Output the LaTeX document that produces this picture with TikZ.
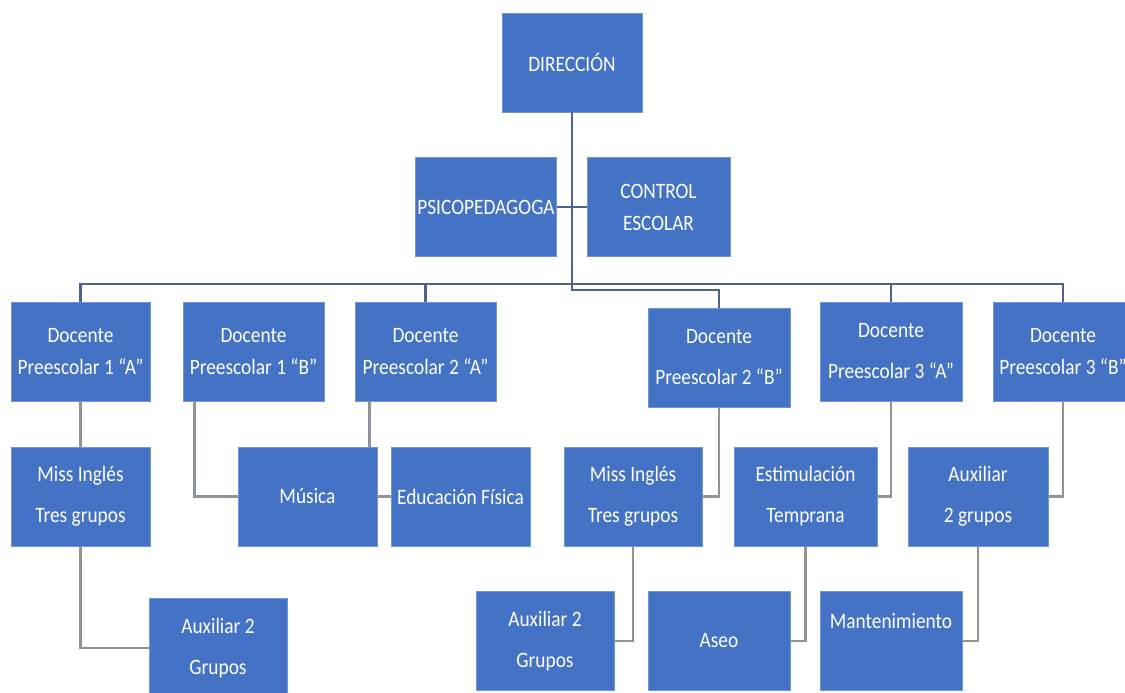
\documentclass[tikz,border=0pt]{standalone}
\usepackage{fontspec}
\setmainfont{Carlito}[FakeStretch=0.88]
\usepackage{tikz}
\usetikzlibrary{positioning}
\definecolor{boxblue}{HTML}{4472C4}
\definecolor{trunkline}{HTML}{4E6390}
\definecolor{branchline}{HTML}{8E939C}
\tikzset{%
	unit/.style     = {rectangle, fill=boxblue, draw=white!25!boxblue, line width=0.8pt, text=white, minimum width=140pt, minimum height=99pt, inner sep=2pt, align=center, font=\fontsize{22}{41}\selectfont}, % Box
	tight/.style    = {font=\fontsize{22}{32}\selectfont}, % Close lines
	trunk/.style    = {draw=trunkline, line width=2.5pt}, % Main lines
	branch/.style   = {draw=branchline, line width=2.5pt}, % Side lines
}

\begin{document}
\begin{tikzpicture}[x=1pt,y=1pt,node distance=172pt]
	\useasboundingbox (0,0) rectangle (1125,693);
	\clip (0,0) rectangle (1125,693);
	\node [unit] (dir) at (572,630.5) {DIRECCIÓN};
	\node [unit] (psico) at (486,486) {PSICOPEDAGOGA};
	\node [unit,tight,minimum width=143pt] (control) [right of=psico,node distance=172.5pt] {CONTROL\\ESCOLAR};
	
	\node [unit,tight,minimum width=139pt] (d1a) at (80.5,341.5) {Docente\\Preescolar 1 “A”};
	\node [unit,tight,minimum width=141pt] (d1b) [right of=d1a,node distance=173pt] {Docente\\Preescolar 1 “B”};
	\node [unit,tight,minimum width=141pt] (d2a) [right of=d1b] {Docente\\Preescolar 2 “A”};
	\node [unit,minimum width=142pt] (d2b) at (719,335.5) {Docente\\Preescolar 2 “B”};
	\node [unit,minimum width=142pt] (d3a) [right of=d2a,node distance=465.5pt] {Docente\\Preescolar 3 “A”};
	\node [unit,tight] (d3b) [right of=d3a] {Docente\\Preescolar 3 “B”};
	
	\node [unit,minimum width=139pt] (ingles1) [below of=d1a,node distance=145pt] {Miss Inglés\\Tres grupos};
	\node [unit,minimum width=139pt] (musica) at (307.5,196.5) {Música};
	\node [unit,minimum width=139pt] (edfis) [right of=musica,node distance=153pt] {Educación Física};
	\node [unit,minimum width=138pt] (ingles2) at (633,196.5) {Miss Inglés\\Tres grupos};
	\node [unit,minimum width=143pt] (estim) [right of=ingles2,node distance=172.5pt] {Estimulación\\Temprana};
	\node [unit] (aux3) [right of=estim,node distance=172.5pt] {Auxiliar\\2 grupos};
	
	\node [unit,minimum width=138pt] (aux1) at (218,45) {Auxiliar 2\\Grupos};
	\node [unit,minimum width=138pt] (aux2) at (545,52) {Auxiliar 2\\Grupos};
	\node [unit,minimum width=142pt] (aseo) [right of=aux2,node distance=174pt] {Aseo};
	\node [unit,minimum width=142pt] (mant) [right of=aseo] {Mantenimiento\\\mbox{}};
	
	\coordinate (bus) at (0,409);
	\coordinate (elbow) at (572,403);
	\draw [trunk] (dir.south) -- (elbow) -| (d2b.north);
	\draw [trunk] (d1a.north) |- (bus -| d3b.north) -- (d3b.north);
	\draw [trunk] (d2a.north) -- (d2a.north |- bus);
	\draw [trunk] (d3a.north) -- (d3a.north |- bus);
	\draw [trunk] (psico.east) -- (control.west);
	
	\coordinate (d1bleg) at ([xshift=12pt]d1b.south west);
	\coordinate (d2aleg) at ([xshift=-8pt]musica.north east);
	\draw [branch] (d1a.south) -- (ingles1.north);
	\draw [branch] (d1bleg) |- (musica.west);
	\draw [branch] (d2aleg) -- (d2aleg |- d2a.south);
	\draw [branch] (musica.east) -- (edfis.west);
	\draw [branch] (d2b.south) |- (ingles2.east);
	\draw [branch] (d3a.south) |- (estim.east);
	\draw [branch] (d3b.south) |- (aux3.east);
	\draw [branch] (ingles1.south) |- (aux1.west);
	\draw [branch] (ingles2.south) |- (aux2.east);
	\draw [branch] (estim.south) |- (aseo.east);
	\draw [branch] (aux3.south) |- (mant.east);
\end{tikzpicture}
\end{document}
